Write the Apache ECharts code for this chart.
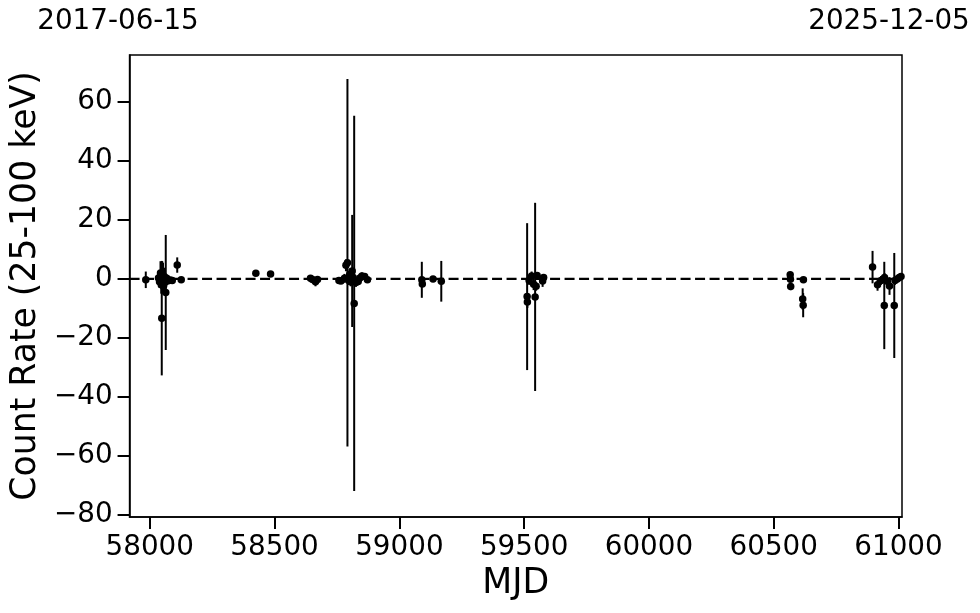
<!DOCTYPE html>
<html>
<head>
<meta charset="utf-8">
<script src="https://cdn.jsdelivr.net/npm/echarts@6/dist/echarts.min.js"></script>
<style>html,body{margin:0;padding:0;background:#fff}#c{width:980px;height:613px}</style>
</head>
<body>
<div id="c"></div>
<script>
// ---- data ----
const mjd = [57984,58035,58039,58043,58046,58048,58050,58053,58055,58058,58061,58064,58068,58074,58082,58090,58110,58126,
  58425,58484,58644,58652,58664,58672,
  58758,58766,58780,58786,58792,58797,58801,58805,58811,58815,58819,58826,58835,58842,58850,58861,58872,
  59090,59092,59135,59168,
  59512,59513,59520,59530,59538,59544,59548,59552,59574,59578,
  60566,60567,60568,60616,60618,60619,
  60896,60916,60930,60943,60944,60955,60964,60983,60986,60995,61003,61010];
const rate = [-0.3,0.3,-1.0,2.0,-2.0,-13.3,1.5,0.5,-2.5,0.8,-1.2,-4.6,0.2,-0.6,-0.4,-0.5,4.7,-0.3,
  1.9,1.7,0.2,-0.2,-1.0,-0.2,
  -0.5,-0.7,0.2,4.6,5.5,-0.5,1.5,-1.0,2.7,0.5,-8.3,-1.2,-0.9,0.3,1.0,0.8,-0.3,
  -0.3,-1.7,0.0,-0.8,
  -6.0,-7.8,-0.5,1.0,-1.8,-6.1,-2.5,1.2,-0.7,0.5,
  1.4,-0.1,-2.6,-6.8,-8.9,-0.3,
  4.0,-2.0,-0.5,-9.0,0.5,-0.8,-2.4,-9.0,-0.5,0.0,0.5,0.8];
const err = [2.8,1.5,2.0,4.0,3.0,19.4,4.5,5.0,2.5,3.0,2.0,19.5,1.2,1.0,0.8,1.0,2.6,0.8,
  0.6,0.5,0.6,0.6,1.5,0.8,
  0.8,1.0,1.5,2.0,62.3,1.5,2.0,1.5,19.0,1.2,63.6,1.5,1.0,1.0,1.2,1.0,0.8,
  6.1,1.0,0.8,6.9,
  24.9,2.0,1.5,1.5,2.0,31.9,1.5,1.0,2.0,1.0,
  1.0,1.0,1.2,3.6,4.1,0.8,
  5.5,2.0,1.5,14.8,1.5,1.0,3.0,17.8,1.5,1.0,1.0,1.0];
const xTicks = [58000,58500,59000,59500,60000,60500,61000];
const yTicks = [-80,-60,-40,-20,0,20,40,60];
const xRange = [57919,61014];
const yRange = [-80.7,75.9];
const refLevel = 0;
const dateLabels = ['2017-06-15','2025-12-05'];
const xName = 'MJD';
const yName = 'Count Rate (25-100 keV)';

// ---- chart ----
const FONT = '"DejaVu Sans", sans-serif';
const pts = mjd.map((m,i)=>[m, rate[i], err[i]]);
const chart = echarts.init(document.getElementById('c'), null, {renderer:'canvas'});
chart.setOption({
  animation:false,
  backgroundColor:'#fff',
  grid:{left:127.5, right:78, top:55, bottom:96, show:true, borderColor:'#000', borderWidth:1.5, backgroundColor:'transparent'},
  xAxis:{
    type:'value', min:xRange[0], max:xRange[1],
    name:xName, nameLocation:'middle', nameGap:46,
    nameTextStyle:{fontFamily:FONT, fontSize:34.7, color:'#000'},
    axisLine:{show:true, onZero:false, lineStyle:{color:'#000', width:1.5}},
    axisTick:{show:true, length:12, lineStyle:{color:'#000', width:2}, customValues:xTicks},
    axisLabel:{margin:17, fontFamily:FONT, fontSize:27.8, color:'#000', customValues:xTicks,
      formatter:v=>String(v)},
    splitLine:{show:false}
  },
  yAxis:{
    type:'value', min:yRange[0], max:yRange[1],
    name:yName, nameLocation:'middle', nameGap:76,
    nameTextStyle:{fontFamily:FONT, fontSize:34.7, color:'#000'},
    axisLine:{show:true, onZero:false, lineStyle:{color:'#000', width:1.5}},
    axisTick:{show:true, length:12, lineStyle:{color:'#000', width:2}, customValues:yTicks},
    axisLabel:{margin:17, fontFamily:FONT, fontSize:27.8, color:'#000', customValues:yTicks,
      formatter:v=>String(v).replace('-','\u2212')},
    splitLine:{show:false}
  },
  graphic:[
    {type:'text', x:118, y:22, style:{text:dateLabels[0], align:'center', verticalAlign:'middle', font:'27.8px '+FONT, fill:'#000'}},
    {type:'text', x:889, y:22, style:{text:dateLabels[1], align:'center', verticalAlign:'middle', font:'27.8px '+FONT, fill:'#000'}}
  ],
  series:[
    {
      type:'line', z:2, symbol:'none', silent:true,
      data:[[xRange[0], refLevel],[xRange[1], refLevel]],
      lineStyle:{color:'#000', width:2.2, type:[10,4.5]}
    },
    {
      type:'custom', clip:true, z:3,
      data:pts,
      encode:{x:0, y:1},
      renderItem:function(params, api){
        const x = api.value(0), y = api.value(1), e = api.value(2);
        const p1 = api.coord([x, y - e]);
        const p2 = api.coord([x, y + e]);
        return {type:'line', shape:{x1:p1[0], y1:p1[1], x2:p2[0], y2:p2[1]},
          style:{stroke:'#000', lineWidth:2}};
      }
    },
    {
      type:'scatter', z:4, symbol:'circle', symbolSize:7.5,
      itemStyle:{color:'#000', opacity:1},
      data:pts.map(p=>[p[0],p[1]])
    }
  ]
});
</script>
</body>
</html>
